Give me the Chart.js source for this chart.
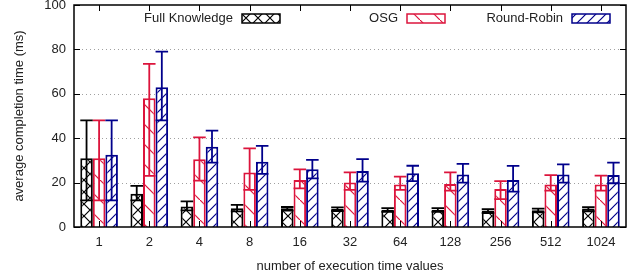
<!DOCTYPE html>
<html>
<head>
<meta charset="utf-8">
<script src="https://cdn.jsdelivr.net/npm/chart.js@4/dist/chart.umd.min.js"></script>
<style>
  body { margin: 0; background: #fff; }
  #wrap { width: 641px; height: 277px; }
</style>
</head>
<body>
<div id="wrap"><canvas id="chart" width="641" height="277"></canvas></div>
<script>
// values (ms)
const categories = ['1', '2', '4', '8', '16', '32', '64', '128', '256', '512', '1024'];
const yTicks = [0, 20, 40, 60, 80, 100];

const fkMean = [31, 15, 9.2, 8.4, 8.4, 8.2, 7.8, 7.8, 7.2, 7.6, 8.2];
const fkLow  = [12, 12, 7.5, 7, 7.4, 7.2, 6.8, 6.8, 6.3, 6.6, 7.1];
const fkHigh = [48, 18.5, 11.5, 10, 9, 8.8, 8.5, 8.5, 8, 8.3, 8.9];

const osgMean = [31, 58, 30.5, 24.5, 21.2, 20, 19.2, 19.4, 17.1, 19.2, 19.2];
const osgLow  = [12, 23, 20.9, 16.7, 17.4, 16.7, 16.7, 16.4, 12.6, 16.4, 16.4];
const osgHigh = [48, 73.5, 40.4, 35.4, 26, 24.6, 22.7, 24.6, 20.7, 23.4, 23.1];

const rrMean = [32.5, 63, 36.2, 29.4, 26, 25.2, 24.2, 23.7, 21.2, 23.7, 23.4];
const rrLow  = [12, 48, 29, 23.9, 21.9, 20.4, 20.7, 20, 15.9, 20, 19.7];
const rrHigh = [48, 79, 43.4, 36.5, 30.2, 30.6, 27.6, 28.4, 27.5, 28.2, 29];

const FONT = '"Liberation Sans", Arial, sans-serif';
const RED = '#dc143c';
const BLUE = '#00008b';

// hatch patterns on white
function makePattern(kind, color) {
    const c = document.createElement('canvas');
    const size = kind === 'cross' ? 12 : (kind === 'back' ? 20 : 10);
    c.width = size;
    c.height = size;
    const g = c.getContext('2d');
    g.fillStyle = '#fff';
    g.fillRect(0, 0, size, size);
    g.strokeStyle = color;
    g.lineWidth = 1.2;
    g.beginPath();
    if (kind === 'cross') {
        g.moveTo(0, 0); g.lineTo(size, size);
        g.moveTo(size, 0); g.lineTo(0, size);
    } else if (kind === 'back') {
        g.moveTo(-1, -1); g.lineTo(size + 1, size + 1);
    } else {
        g.moveTo(-1, size + 1); g.lineTo(size + 1, -1);
        g.moveTo(-1, 1); g.lineTo(1, -1);
        g.moveTo(size - 1, size + 1); g.lineTo(size + 1, size - 1);
    }
    g.stroke();
    return document.getElementById('chart').getContext('2d').createPattern(c, 'repeat');
}

const fkPat = makePattern('cross', '#000');
const osgPat = makePattern('back', RED);
const rrPat = makePattern('fwd', BLUE);

const lows = [fkLow, osgLow, rrLow];
const highs = [fkHigh, osgHigh, rrHigh];

const legendItems = [
    { text: 'Full Knowledge', right: 233, box: 242, fill: fkPat, color: '#000' },
    { text: 'OSG', right: 398, box: 407, fill: osgPat, color: RED },
    { text: 'Round-Robin', right: 563, box: 572, fill: rrPat, color: BLUE }
];

const gnuplotLook = {
    id: 'gnuplotLook',
    beforeDatasetsDraw(chart) {
        const { ctx, chartArea: a, scales: { y } } = chart;
        ctx.save();
        ctx.strokeStyle = '#a0a0a0';
        ctx.lineWidth = 1;
        ctx.setLineDash([1, 3]);
        yTicks.slice(1, -1).forEach(v => {
            const py = Math.round(y.getPixelForValue(v)) + 0.5;
            ctx.beginPath();
            ctx.moveTo(a.left, py);
            ctx.lineTo(a.right, py);
            ctx.stroke();
        });
        ctx.restore();
    },
    afterDatasetsDraw(chart) {
        const { ctx, chartArea: a, scales: { x, y } } = chart;
        ctx.save();

        // error bars
        chart.data.datasets.forEach((ds, i) => {
            const meta = chart.getDatasetMeta(i);
            ctx.strokeStyle = ds.borderColor;
            ctx.lineWidth = 1.8;
            meta.data.forEach((bar, j) => {
                const lo = y.getPixelForValue(lows[i][j]);
                const hi = y.getPixelForValue(highs[i][j]);
                const half = bar.width / 2;
                ctx.beginPath();
                ctx.moveTo(bar.x, lo); ctx.lineTo(bar.x, hi);
                ctx.moveTo(bar.x - half, lo); ctx.lineTo(bar.x + half, lo);
                ctx.moveTo(bar.x - half, hi); ctx.lineTo(bar.x + half, hi);
                ctx.stroke();
            });
        });

        // frame and inward ticks
        ctx.strokeStyle = '#000';
        ctx.lineWidth = 1.5;
        ctx.strokeRect(a.left, a.top, a.right - a.left, a.bottom - a.top);
        ctx.lineWidth = 1;
        ctx.beginPath();
        yTicks.forEach(v => {
            const py = Math.round(y.getPixelForValue(v)) + 0.5;
            ctx.moveTo(a.left, py); ctx.lineTo(a.left + 6, py);
            ctx.moveTo(a.right, py); ctx.lineTo(a.right - 6, py);
        });
        categories.forEach((c, i) => {
            const px = Math.round(x.getPixelForValue(i)) + 0.5;
            ctx.moveTo(px, a.top); ctx.lineTo(px, a.top + 6);
            ctx.moveTo(px, a.bottom); ctx.lineTo(px, a.bottom - 6);
        });
        ctx.stroke();

        // legend
        ctx.font = '13px ' + FONT;
        ctx.textAlign = 'right';
        ctx.textBaseline = 'middle';
        legendItems.forEach(it => {
            ctx.fillStyle = '#222';
            ctx.fillText(it.text, it.right, 18);
            ctx.fillStyle = it.fill;
            ctx.fillRect(it.box, 14, 38, 9);
            ctx.strokeStyle = it.color;
            ctx.lineWidth = 1.5;
            ctx.strokeRect(it.box, 14, 38, 9);
        });

        // axis titles
        ctx.fillStyle = '#222';
        ctx.textAlign = 'center';
        ctx.fillText('number of execution time values', (a.left + a.right) / 2, 266);
        ctx.translate(19, (a.top + a.bottom) / 2);
        ctx.rotate(-Math.PI / 2);
        ctx.fillText('average completion time (ms)', 0, 0);
        ctx.restore();
    }
};

new Chart(document.getElementById('chart'), {
    type: 'bar',
    data: {
        labels: categories,
        datasets: [
            { label: 'Full Knowledge', data: fkMean, backgroundColor: fkPat, borderColor: '#000', borderWidth: 2 },
            { label: 'OSG', data: osgMean, backgroundColor: osgPat, borderColor: RED, borderWidth: 2 },
            { label: 'Round-Robin', data: rrMean, backgroundColor: rrPat, borderColor: BLUE, borderWidth: 2 }
        ]
    },
    options: {
        responsive: false,
        animation: false,
        devicePixelRatio: 1,
        layout: { padding: { top: 5, right: 15, left: 0, bottom: 0 } },
        datasets: { bar: { categoryPercentage: 0.75, barPercentage: 1.0 } },
        plugins: {
            legend: { display: false },
            tooltip: { enabled: false }
        },
        scales: {
            x: {
                grid: { display: false, drawTicks: false },
                border: { display: false },
                ticks: { color: '#222', font: { family: FONT, size: 13 }, padding: 8, maxRotation: 0 },
                afterFit(s) { s.height = 50; s.paddingLeft = 0; s.paddingRight = 0; }
            },
            y: {
                min: 0,
                max: 100,
                grid: { display: false, drawTicks: false },
                border: { display: false },
                ticks: { stepSize: 20, color: '#222', font: { family: FONT, size: 13 }, padding: 8 },
                afterFit(s) { s.width = 74; s.paddingTop = 0; s.paddingBottom = 0; }
            }
        }
    },
    plugins: [gnuplotLook]
});
</script>
</body>
</html>
